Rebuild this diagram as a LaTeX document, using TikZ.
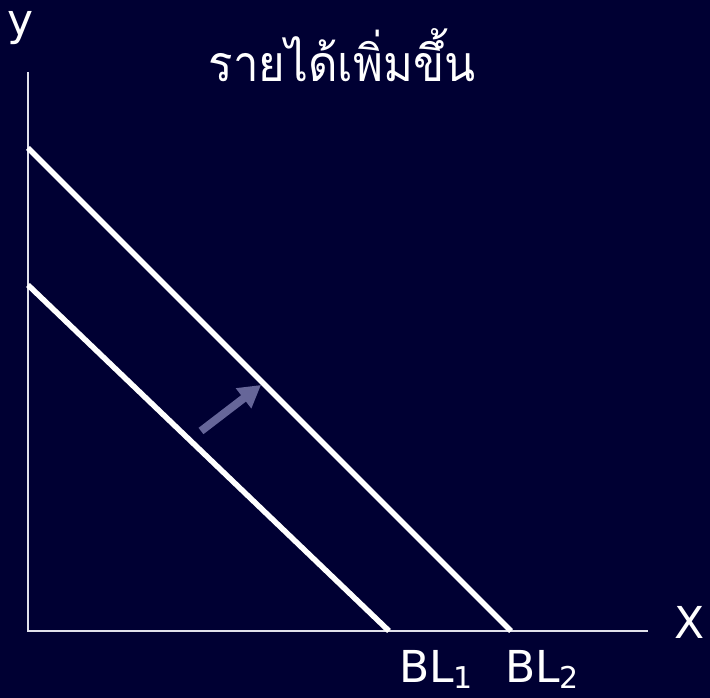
\documentclass[tikz,border=0pt]{standalone}
\usepackage{fontspec}
\setmainfont{DejaVu Sans}
\newfontfamily\thaifont[Script=Thai]{Loma}
\usetikzlibrary{arrows.meta}
\definecolor{bg}{RGB}{0,0,51}
\definecolor{arrowc}{RGB}{102,102,153}
\definecolor{axisc}{RGB}{225,225,235}
\tikzset{
  axisline/.style={draw=axisc, line width=2pt},
  budget/.style={draw=white, line width=5.5pt},
  lbl/.style={text=white, inner sep=0pt, font=\fontsize{44}{50}\selectfont},
  shiftarrow/.style={draw=arrowc, line width=8pt, -{Triangle[length=22pt,width=24pt]}},
}
\newcommand{\subnum}[1]{\raisebox{-6pt}{\fontsize{30}{30}\selectfont #1}}
\begin{document}
\begin{tikzpicture}[x=1pt,y=-1pt]
\fill[bg] (0,0) rectangle (710,698);
\useasboundingbox (0,0) rectangle (710,698);
% axes
\coordinate (O) at (28,631);
\coordinate (Ytop) at (28,72);
\coordinate (Xend) at (648,631);
\draw[axisline] (Ytop) -- (O) -- (Xend);
% budget lines
\coordinate (A1) at (28,285);
\coordinate (B1) at (389,631);
\coordinate (A2) at (28,148);
\coordinate (B2) at (511,631);
\draw[budget] (A1) -- (B1);
\draw[budget] (A2) -- (B2);
% shift arrow
\coordinate (s1) at (201,431);
\coordinate (s2) at (261,385);
\draw[shiftarrow] (s1) -- (s2);
% labels
\node[lbl] (ylab) at (21,28) {y};
\node[lbl] (xlab) at (690,622) {X};
\node[lbl, anchor=base west] (bl1) at (399,682) {BL\subnum{1}};
\node[lbl, anchor=base west] (bl2) at (505,682) {BL\subnum{2}};
\node[text=white, inner sep=0pt, anchor=base, xscale=0.91, font=\thaifont\fontsize{50}{56}\selectfont] (title) at (342,82) {รายได้เพิ่มขึ้น};
\end{tikzpicture}
\end{document}
